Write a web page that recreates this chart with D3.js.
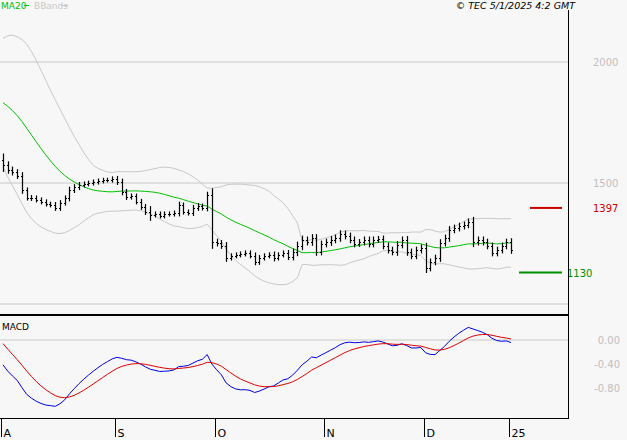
<!DOCTYPE html><html><head><meta charset="utf-8">
<script src="https://cdn.jsdelivr.net/npm/d3@7"></script>
<style>body{margin:0;background:#f7f7f7}svg{display:block;font-family:"DejaVu Sans",sans-serif}</style></head><body>
<svg id="c" width="627" height="440"></svg>
<script>
// pre-period closes (before chart start), used only for indicator warm-up
const preCloses=[1700,1710,1720,1705,1715,1710,1720,1730,1740,1760,
 1800,1850,1900,1940,1970,1990,2000,1990,1970,1940,1900,1860,1820,1790,1760,1730,1700,1680,1650,1620];
const closes=[1574,1554,1545,1529,1471,1438,1438,1430,1422,1413,1409,1397,1417,1438,1471,1483,1492,1496,1500,1504,
 1508,1512,1512,1517,1504,1463,1442,1446,1422,1401,1380,1368,1372,1364,1372,1372,1376,1409,1380,1376,
 1397,1405,1397,1450,1256,1252,1240,1190,1199,1203,1207,1211,1199,1174,1190,1199,1203,1190,1203,1211,
 1194,1215,1240,1265,1256,1273,1215,1248,1256,1265,1273,1289,1281,1265,1248,1256,1265,1248,1265,1269,
 1240,1223,1215,1244,1265,1215,1199,1223,1232,1149,1174,1190,1252,1273,1306,1314,1322,1327,1339,1256,
 1265,1256,1240,1211,1223,1240,1256,1223];
const spreads=[80,45,40,35,45,30,35,30,30,30,28,35,35,30,40,35,35,30,28,30,
 30,28,28,30,35,40,35,30,30,35,35,70,30,30,30,30,30,40,30,30,
 35,35,30,40,80,40,35,45,30,30,30,30,30,40,35,30,30,40,30,30,
 35,40,50,50,40,45,45,40,40,45,40,45,40,40,40,35,40,40,40,35,
 40,40,40,45,40,45,40,40,40,60,40,40,45,40,45,40,40,40,40,60,
 40,40,40,40,40,40,40,45];
const priceTicks=[2000,1500];
const macdTicks=["0.00","-0.40","-0.80"];
const macdTickVals=[0,-0.4,-0.8];
const monthLabels=["A","S","O","N","D","25"];
const monthIdx=[0,24,45,68,89,107];
const supportLevel=1130, resistLevel=1397;

const svg=d3.select("#c");
const N=closes.length;
const x=d3.scaleLinear().domain([0,N-1]).range([3,511]);
const y=d3.scaleLinear().domain([1000,2000]).range([304,62]);
const ym=d3.scaleLinear().domain([0,-0.8]).range([340,388]);

const all=preCloses.concat(closes), P=preCloses.length;
const ma=[],up=[],lo=[];
for(let i=0;i<N;i++){const w=all.slice(P+i-19,P+i+1);const m=d3.mean(w),s=d3.deviation(w)*Math.sqrt(19/20);ma.push(m);up.push(m+2*s);lo.push(m-2*s);}
function ema(a,n){const k=2/(n+1);let e=a[0];return a.map(v=>e=v*k+e*(1-k));}
const e12=ema(all,12),e26=ema(all,26);
const macdAll=all.map((v,i)=>(e12[i]-e26[i])/v*100*0.15);
const sigAll=ema(macdAll,9);
const macd=macdAll.slice(P),sig=sigAll.slice(P);

const g="#c8c8c8";
priceTicks.concat([1000]).forEach(v=>svg.append("line").attr("x1",0).attr("x2",568).attr("y1",y(v)).attr("y2",y(v)).attr("stroke",g));
svg.append("line").attr("x1",0).attr("x2",568).attr("y1",ym(0)).attr("y2",ym(0)).attr("stroke",g);
const ln=(arr,sc)=>d3.line().x((d,i)=>x(i)).y(d=>sc(d))(arr);
svg.append("path").attr("d",ln(up,y)).attr("fill","none").attr("stroke",g);
svg.append("path").attr("d",ln(lo,y)).attr("fill","none").attr("stroke",g);
svg.append("path").attr("d",ln(ma,y)).attr("fill","none").attr("stroke","#00c000");
closes.forEach((c,i)=>{const o=i?closes[i-1]:c+20;
 const hh=Math.max(o,c)+spreads[i]*0.35, ll=Math.min(o,c)-spreads[i]*0.35;
 const X=Math.round(x(i))+0.5;
 svg.append("line").attr("x1",X).attr("x2",X).attr("y1",y(hh)).attr("y2",y(ll)).attr("stroke","#000").attr("stroke-width",1.2);
 svg.append("line").attr("x1",X).attr("x2",X+1.5).attr("y1",Math.round(y(c))+0.5).attr("y2",Math.round(y(c))+0.5).attr("stroke","#000");
 svg.append("line").attr("x1",X-1.5).attr("x2",X).attr("y1",Math.round(y(o))+0.5).attr("y2",Math.round(y(o))+0.5).attr("stroke","#000");
});
svg.append("line").attr("x1",530).attr("x2",562).attr("y1",y(resistLevel)).attr("y2",y(resistLevel)).attr("stroke","#cc0000").attr("stroke-width",2);
svg.append("line").attr("x1",519).attr("x2",562).attr("y1",y(supportLevel)).attr("y2",y(supportLevel)).attr("stroke","#009000").attr("stroke-width",2);
svg.append("text").attr("x",593).attr("y",y(resistLevel)+4).text(resistLevel).attr("fill","#cc0000").attr("font-size",10);
svg.append("text").attr("x",567).attr("y",y(supportLevel)+4).text(supportLevel).attr("fill","#009000").attr("font-size",10);
priceTicks.forEach(v=>svg.append("text").attr("x",593).attr("y",y(v)+4).text(v).attr("fill","#c0c0c0").attr("font-size",10));
svg.append("path").attr("d",ln(macd,ym)).attr("fill","none").attr("stroke","#0000dd");
svg.append("path").attr("d",ln(sig,ym)).attr("fill","none").attr("stroke","#dd0000");
macdTickVals.forEach((v,i)=>svg.append("text").attr("x",620).attr("y",ym(v)+4).attr("text-anchor","end").text(macdTicks[i]).attr("fill","#c0c0c0").attr("font-size",10));
svg.append("line").attr("x1",568.5).attr("x2",568.5).attr("y1",10).attr("y2",419).attr("stroke","#000");
svg.append("line").attr("x1",0).attr("x2",569).attr("y1",315).attr("y2",315).attr("stroke","#000").attr("stroke-width",2);
svg.append("line").attr("x1",0).attr("x2",569).attr("y1",418.5).attr("y2",418.5).attr("stroke","#000");
monthIdx.forEach((k,i)=>{const X=Math.round(x(k))-1.5;
 svg.append("line").attr("x1",X).attr("x2",X).attr("y1",419).attr("y2",437).attr("stroke","#000");
 svg.append("text").attr("x",X+2).attr("y",437).text(monthLabels[i]).attr("font-size",11).attr("fill","#000");});
svg.append("text").attr("x",1).attr("y",9).text("MA20").attr("fill","#00c000").attr("font-size",9);
svg.append("line").attr("x1",24).attr("x2",29).attr("y1",5.5).attr("y2",5.5).attr("stroke","#00c000");
svg.append("text").attr("x",34).attr("y",9).text("BBands").attr("fill","#c8c8c8").attr("font-size",9);
svg.append("line").attr("x1",61).attr("x2",68).attr("y1",5.5).attr("y2",5.5).attr("stroke","#c8c8c8");
svg.append("text").attr("x",575).attr("y",9).attr("text-anchor","end").attr("font-style","italic").attr("font-size",9.5).text("© TEC 5/1/2025 4:2 GMT");
svg.append("text").attr("x",2).attr("y",330).text("MACD").attr("font-size",9);
</script></body></html>
